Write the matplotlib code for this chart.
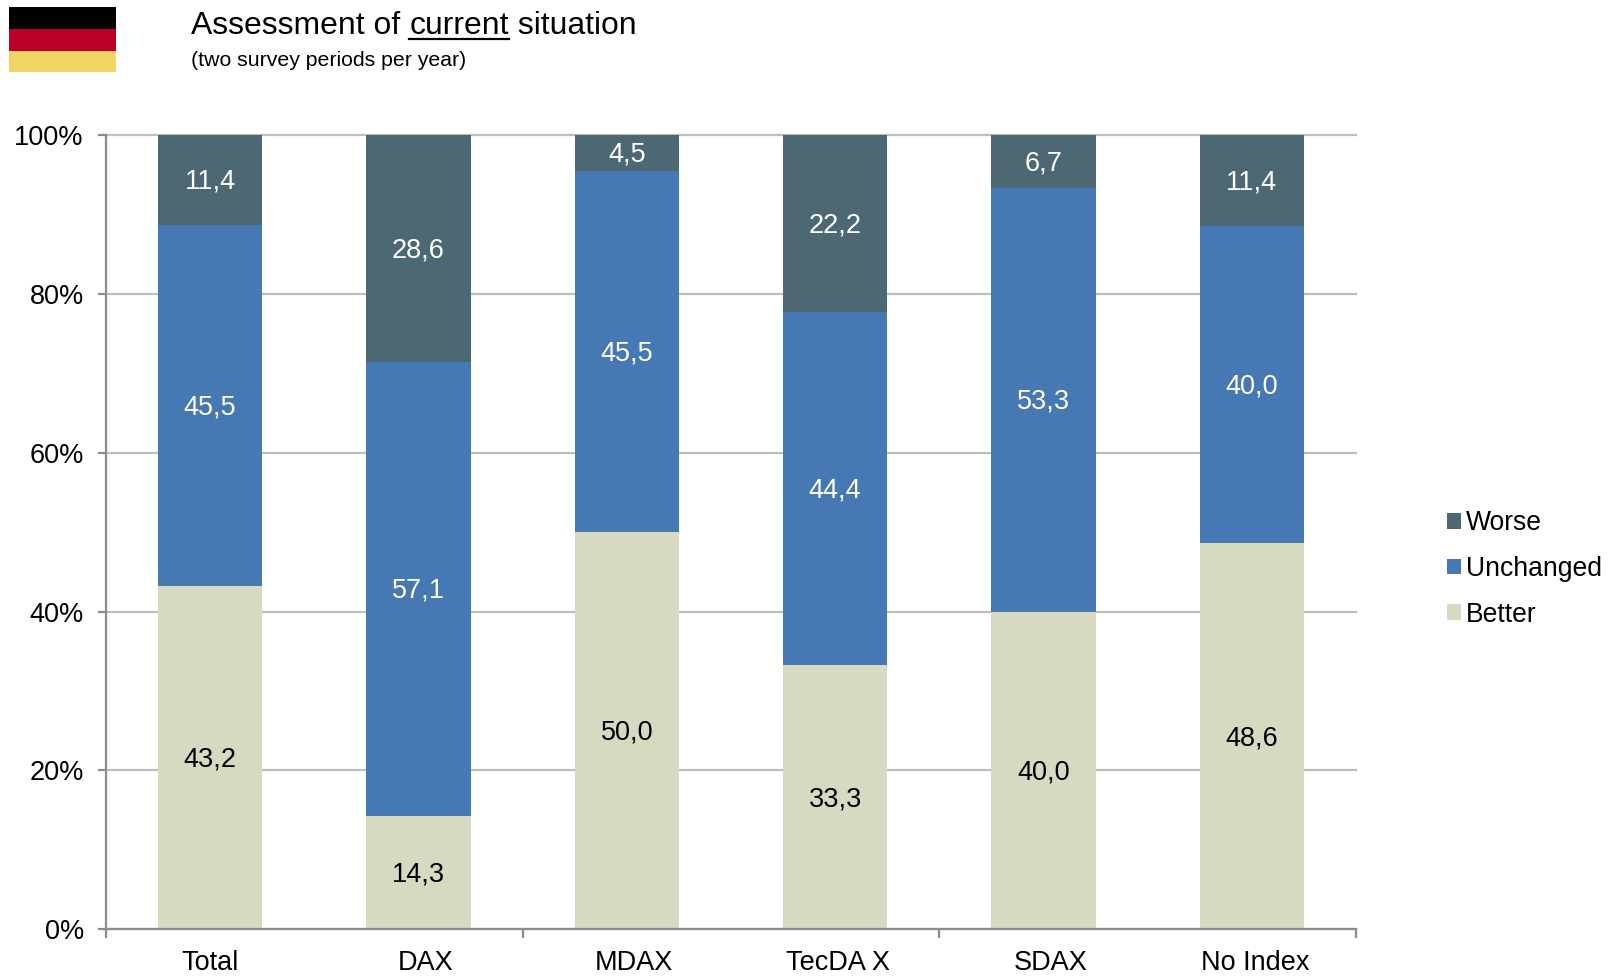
import matplotlib
matplotlib.use("Agg")
import matplotlib.pyplot as plt
from matplotlib.patches import Rectangle
from matplotlib.lines import Line2D
from matplotlib.transforms import ScaledTranslation

categories = ["Total", "DAX", "MDAX", "TecDA X", "SDAX", "No Index"]
better = [43.2, 14.3, 50.0, 33.3, 40.0, 48.6]
unchanged = [45.5, 57.1, 45.5, 44.4, 53.3, 40.0]
worse = [11.4, 28.6, 4.5, 22.2, 6.7, 11.4]
y_ticks = [0, 20, 40, 60, 80, 100]

W, H = 1617, 976
plt.rcParams["font.family"] = ["Liberation Sans", "DejaVu Sans"]
fig = plt.figure(figsize=(W / 100, H / 100), dpi=100)
L, R, T, B = 106, 1356, 135, 929.3
ax = fig.add_axes([L / W, 1 - B / H, (R - L) / W, (B - T) / H])
ax.set_xlim(-0.5, 5.5)
ax.set_ylim(0, 100)
x = list(range(6))
C_B, C_U, C_W = "#D7DAC0", "#4678B4", "#4C6873"
GRID = "#BEBEBE"
AX = "#8C8C8C"
ax.set_axisbelow(True)
ax.yaxis.grid(True, color=GRID, lw=1.6)
for g in ax.get_ygridlines():
    g.set_clip_on(False)
ax.bar(x, better, 0.5, color=C_B, label="Better", zorder=3)
ax.bar(x, unchanged, 0.5, bottom=better, color=C_U, label="Unchanged", zorder=3)
bot2 = [a + b for a, b in zip(better, unchanged)]
ax.bar(x, [100 - b for b in bot2], 0.5, bottom=bot2, color=C_W, label="Worse", zorder=3)

def fmt(v):
    return f"{v:.1f}".replace(".", ",")

down = ScaledTranslation(0, -2.0 / 100, fig.dpi_scale_trans)
for i in x:
    for y, v, col in [(better[i] / 2, better[i], "black"),
                      (better[i] + unchanged[i] / 2, unchanged[i], "white"),
                      (bot2[i] + (100 - bot2[i]) / 2, worse[i], "white")]:
        ax.text(i, y, fmt(v), ha="center", va="center", fontsize=19.5, color=col, zorder=4,
                transform=ax.transData + down)

for s in ["top", "right"]:
    ax.spines[s].set_visible(False)
for s in ["left", "bottom"]:
    ax.spines[s].set_color(AX)
    ax.spines[s].set_linewidth(1.6)
    ax.spines[s].set_zorder(5)
ax.set_yticks(y_ticks)
ax.set_yticklabels([f"{v}%" for v in y_ticks], fontsize=19.5)
ax.tick_params(axis="y", length=6, width=1.6, color=AX, pad=10)
ax.set_xticks([-0.5, 1.5, 3.5, 5.5])
ax.set_xticklabels([])
ax.tick_params(axis="x", length=6.5, width=1.6, color=AX)

# category labels sit slightly off the bar centres, as in the reference
label_shift = [0.0, 0.035, 0.035, 0.015, 0.035, 0.015]
for i, c in enumerate(categories):
    ax.annotate(c, xy=(i + label_shift[i], 0), xycoords=("data", "axes fraction"),
                xytext=(0, -24.2), textcoords="offset points", ha="center", va="center",
                fontsize=19.5, color="black", annotation_clip=False)

# flag
flag = fig.add_axes([0, 0, 1, 1], zorder=-1)
flag.set_xlim(0, W); flag.set_ylim(H, 0); flag.axis("off")
for y0, y1, col in [(7, 29, "#000000"), (29, 51, "#BB0027"), (51, 72, "#F0D466")]:
    flag.add_patch(Rectangle((9, y0), 107, y1 - y0, color=col, lw=0))

# titles
ty = 1 - 26.5 / H
t = fig.text(191 / W, ty, "Assessment of ", fontsize=22.95, va="center", ha="left")
r = fig.canvas.get_renderer()
b = t.get_window_extent(r)
t2 = fig.text(b.x1 / W, ty, "current", fontsize=22.95, va="center", ha="left")
b2 = t2.get_window_extent(r)
fig.text(b2.x1 / W, ty, " situation", fontsize=22.95, va="center", ha="left")
fig.add_artist(Line2D([b2.x0 / W, b2.x1 / W], [1 - 39 / H] * 2, color="black", lw=1.6, transform=fig.transFigure))
fig.text(191 / W, 1 - 61 / H, "(two survey periods per year)", fontsize=15.35, va="center", ha="left")

# legend
handles, labels = ax.get_legend_handles_labels()
fig.legend(handles[::-1], labels[::-1], loc="center left", bbox_to_anchor=(1447 / W, 1 - 569 / H),
           frameon=False, fontsize=19.1, handlelength=0.53, handleheight=0.53, handletextpad=0.2,
           labelspacing=0.74, borderpad=0, borderaxespad=0)
fig.savefig("out.png", dpi=100)
